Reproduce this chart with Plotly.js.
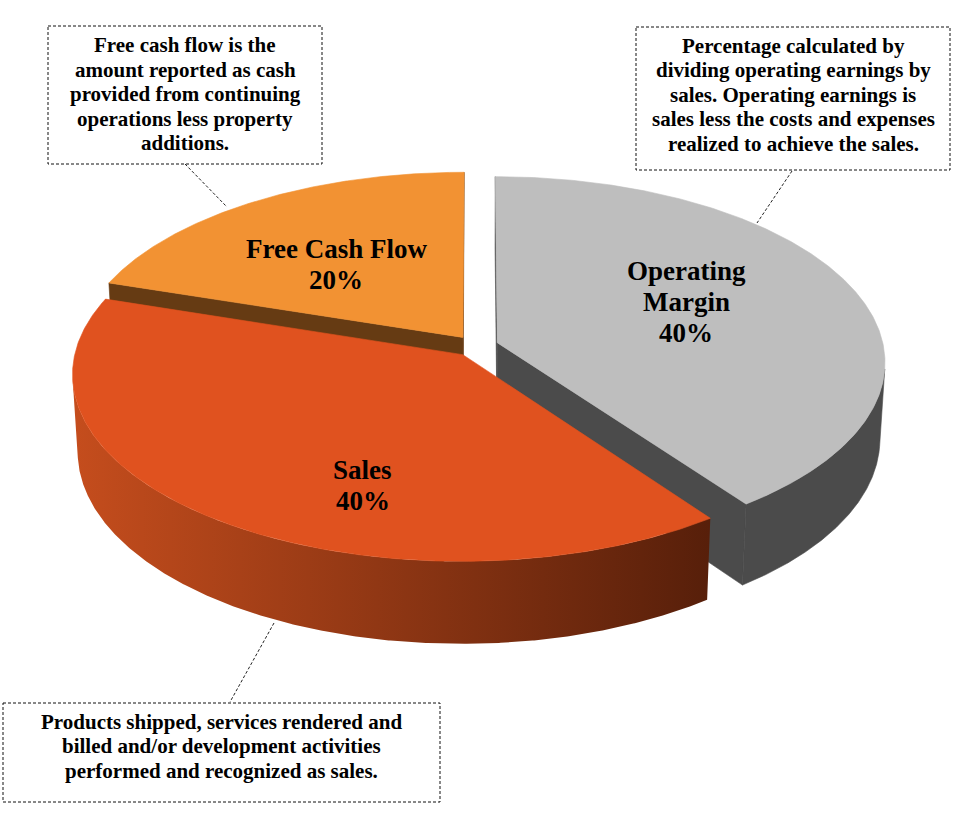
<!DOCTYPE html>
<html><head><meta charset="utf-8">
<script src="https://cdn.plot.ly/plotly-3.0.1.min.js"></script>
<style>html,body{margin:0;padding:0;background:#fff}</style>
</head><body><div id="chart" style="width:977px;height:831px"></div>
<script>
// ---- data ----
const categories = ['Operating Margin', 'Sales', 'Free Cash Flow'];
const values = [40, 40, 20];
const labelLines = [['Operating', 'Margin'], ['Sales'], ['Free Cash Flow']];
const noteOperating = ['Percentage calculated by', 'dividing operating earnings by', 'sales. Operating earnings is', 'sales less the costs and expenses', 'realized to achieve the sales.'];
const noteSales = ['Products shipped, services rendered and', 'billed and/or development activities', 'performed and recognized as sales.'];
const noteCash = ['Free cash flow is the', 'amount reported as cash', 'provided from continuing', 'operations less property', 'additions.'];

// ---- styles ----
const topColors = ['#BEBEBE', '#E0521F', '#F29233'];
const sideColors = ['#4B4B4B', null, '#663B13'];
const sideGradient = [[0, '#C54D1D'], [1, '#571F0A']];
const FONT = 'Liberation Serif, Times New Roman, serif';

// ---- projection (perspective view of a tilted disk) ----
const CX = 476, CY = 346, F = 3325, D = 8.61, AL = 28.4 * Math.PI / 180, H = 0.228, PULL = 0.058;
const sA = Math.sin(AL), cA = Math.cos(AL);
const CAM = [0, -D * cA, D * sA];
function proj(u, v, z) {
  const yup = v * sA + z * cA;
  const dep = D + v * cA - z * sA;
  return [CX + F * u / dep, CY - F * yup / dep];
}

const total = values.reduce((a, b) => a + b, 0);
let acc = 0;
const slices = values.map((val, i) => {
  const a0 = acc / total * 2 * Math.PI; acc += val;
  const a1 = acc / total * 2 * Math.PI;
  const mid = (a0 + a1) / 2;
  return { i, a0, a1, mid, ou: PULL * Math.sin(mid), ov: PULL * Math.cos(mid) };
});

const traces = [];
function addPoly(pts, color, grad) {
  const x = pts.map(p => p[0]), y = pts.map(p => p[1]);
  x.push(x[0]); y.push(y[0]);
  const t = { type: 'scatter', mode: 'lines', x, y, fill: 'toself', hoverinfo: 'skip', showlegend: false };
  if (grad) {
    t.fillgradient = { type: 'horizontal', colorscale: grad, start: Math.min(...x), stop: Math.max(...x) };
    t.line = { width: 0 };
  } else {
    t.fillcolor = color;
    t.line = { width: 0.6, color: color };
  }
  traces.push(t);
}
function dot(a, b) { return a[0] * b[0] + a[1] * b[1] + a[2] * b[2]; }

const order = slices.slice().sort((a, b) => Math.cos(b.mid) - Math.cos(a.mid));
order.forEach(s => {
  const { ou, ov, a0, a1 } = s;
  const wallColor = sideColors[s.i];
  const grad = wallColor ? null : sideGradient;
  [[a0, [-Math.cos(a0), Math.sin(a0), 0]], [a1, [Math.cos(a1), -Math.sin(a1), 0]]].forEach(([a, n]) => {
    const P = [ou + 0.5 * Math.sin(a), ov + 0.5 * Math.cos(a), -H / 2];
    const toCam = [CAM[0] - P[0], CAM[1] - P[1], CAM[2] - P[2]];
    if (dot(n, toCam) > 0) {
      addPoly([proj(ou, ov, 0), proj(ou + Math.sin(a), ov + Math.cos(a), 0),
               proj(ou + Math.sin(a), ov + Math.cos(a), -H), proj(ou, ov, -H)], wallColor || '#8F3716', null);
    }
  });
  const N = 600;
  let run = [];
  const flush = () => {
    if (run.length > 1) {
      const pts = run.map(t => proj(ou + Math.sin(t), ov + Math.cos(t), 0))
        .concat(run.slice().reverse().map(t => proj(ou + Math.sin(t), ov + Math.cos(t), -H)));
      addPoly(pts, wallColor, grad);
    }
    run = [];
  };
  for (let k = 0; k <= N; k++) {
    const t = a0 + (a1 - a0) * k / N;
    const vis = -ou * Math.sin(t) - 1 - (D * cA + ov) * Math.cos(t) > 0;
    if (vis) run.push(t); else flush();
  }
  flush();
  const top = [proj(ou, ov, 0)];
  for (let k = 0; k <= 300; k++) {
    const t = a0 + (a1 - a0) * k / 300;
    top.push(proj(ou + Math.sin(t), ov + Math.cos(t), 0));
  }
  addPoly(top, topColors[s.i], null);
});

// ---- labels ----
const annotations = [];
function addLines(lines, xc, y0, step, size) {
  lines.forEach((ln, k) => annotations.push({
    x: xc, y: y0 + k * step, xref: 'x', yref: 'y', text: '<b>' + ln + '</b>', showarrow: false,
    xanchor: 'center', yanchor: 'middle', font: { family: FONT, size: size, color: '#000' }
  }));
}
const labelPos = [[686, 271], [362.5, 470], [336, 249]];
slices.forEach(s => {
  const pct = Math.round(values[s.i] / total * 100) + '%';
  addLines(labelLines[s.i].concat([pct]), labelPos[s.i][0], labelPos[s.i][1], 30.8, 27);
});
addLines(noteCash, 185, 45, 24.5, 21);
addLines(noteOperating, 793, 45.5, 24.5, 21);
addLines(noteSales, 221, 721.5, 24.5, 21);

const dash = { color: '#111', width: 1, dash: '3px,2px' };
const lead = { color: '#222', width: 1, dash: '3px,2px' };
const shapes = [
  { type: 'rect', xref: 'x', yref: 'y', x0: 48, y0: 26, x1: 322, y1: 164, line: dash },
  { type: 'rect', xref: 'x', yref: 'y', x0: 636, y0: 27, x1: 950, y1: 170, line: dash },
  { type: 'rect', xref: 'x', yref: 'y', x0: 3, y0: 703, x1: 440, y1: 802, line: dash },
  { type: 'line', xref: 'x', yref: 'y', x0: 185, y0: 164, x1: 227, y1: 207, line: lead },
  { type: 'line', xref: 'x', yref: 'y', x0: 792, y0: 171, x1: 757, y1: 223, line: lead },
  { type: 'line', xref: 'x', yref: 'y', x0: 274, y0: 623, x1: 230, y1: 702, line: lead }
];

Plotly.newPlot('chart', traces, {
  width: 977, height: 831,
  margin: { l: 0, r: 0, t: 0, b: 0, pad: 0 },
  paper_bgcolor: '#fff', plot_bgcolor: '#fff',
  showlegend: false,
  xaxis: { range: [0, 977], visible: false, fixedrange: true },
  yaxis: { range: [831, 0], visible: false, fixedrange: true },
  annotations, shapes
}, { staticPlot: true, displayModeBar: false });
</script>
</body></html>
